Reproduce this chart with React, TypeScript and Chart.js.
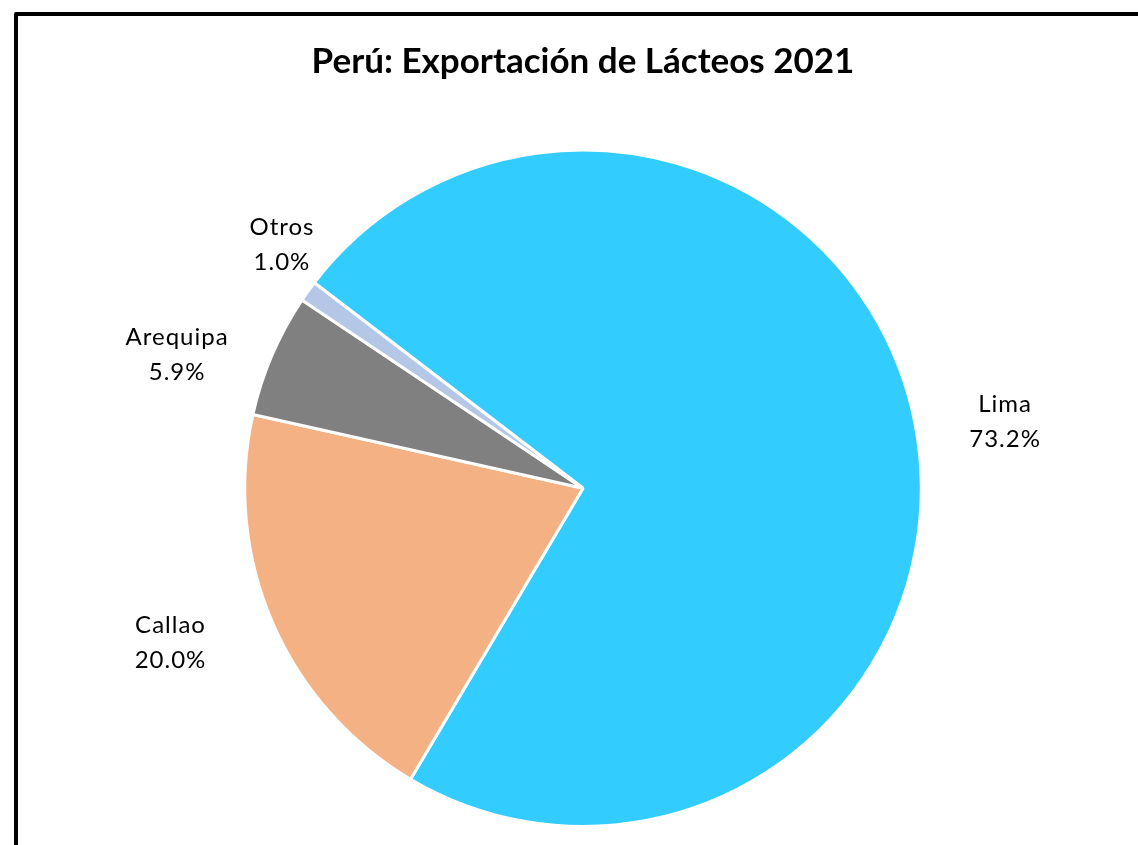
import React, { useEffect, useRef } from "react";
import { Chart, registerables } from "chart.js";

Chart.register(...registerables);

const categories = ["Lima", "Callao", "Arequipa", "Otros"];
const shares = [73.2, 20.0, 5.9, 1.0];
const valueLabels = ["73.2%", "20.0%", "5.9%", "1.0%"];
const sliceColors = ["#33CCFF", "#F4B183", "#808080", "#B4C7E7"];
const chartTitle = "Perú: Exportación de Lácteos 2021";

// label offsets (px) from the outer mid point of each slice
const labelShift = [
  [90, -2],
  [-102, 20],
  [-95, 0],
  [-26, -47],
];

const outsideLabels = {
  id: "outsideLabels",
  afterDatasetsDraw(chart: any) {
    const ctx = chart.ctx;
    const meta = chart.getDatasetMeta(0);
    ctx.save();
    ctx.font = "24px Lato";
    (ctx as any).letterSpacing = "1px";
    ctx.fillStyle = "#000000";
    ctx.textAlign = "center";
    ctx.textBaseline = "middle";
    meta.data.forEach((arc: any, i: number) => {
      const p = arc.getProps(["x", "y", "startAngle", "endAngle", "outerRadius"], true);
      const mid = (p.startAngle + p.endAngle) / 2;
      const ax = p.x + Math.cos(mid) * p.outerRadius + labelShift[i][0];
      const ay = p.y + Math.sin(mid) * p.outerRadius + labelShift[i][1];
      ctx.fillText(categories[i], ax, ay - 17.5);
      ctx.fillText(valueLabels[i], ax, ay + 17.5);
    });
    ctx.restore();
  },
};

export default function App() {
  const ref = useRef<HTMLCanvasElement | null>(null);
  useEffect(() => {
    document.body.style.overflow = "hidden";
    if (!ref.current) return;
    const chart = new Chart(ref.current, {
      type: "pie",
      data: {
        labels: categories,
        datasets: [
          {
            data: shares,
            backgroundColor: sliceColors,
            borderColor: "#FFFFFF",
            borderWidth: 3,
          },
        ],
      },
      options: {
        animation: false,
        responsive: true,
        maintainAspectRatio: false,
        rotation: -52.6,
        layout: { padding: { top: 0, bottom: 68, left: 0, right: 0 } },
        plugins: {
          legend: { display: false },
          tooltip: { enabled: false },
          title: {
            display: true,
            text: chartTitle,
            color: "#000000",
            font: { family: "Lato", size: 35, weight: "bold" },
            padding: { top: 25, bottom: 65.5 },
          },
        },
      },
      plugins: [outsideLabels],
    });
    (document as any).fonts?.load("bold 35px Lato").then(() => chart.update());
    return () => chart.destroy();
  }, []);

  return (
    <div
      style={{
        position: "fixed",
        left: 14,
        top: 12,
        width: 1138,
        height: 888,
        border: "4px solid #000",
        boxSizing: "border-box",
        background: "#fff",
        borderRadius: 2,
      }}
    >
      <div style={{ position: "relative", width: 1130, height: 880 }}>
        <canvas ref={ref} />
      </div>
    </div>
  );
}
